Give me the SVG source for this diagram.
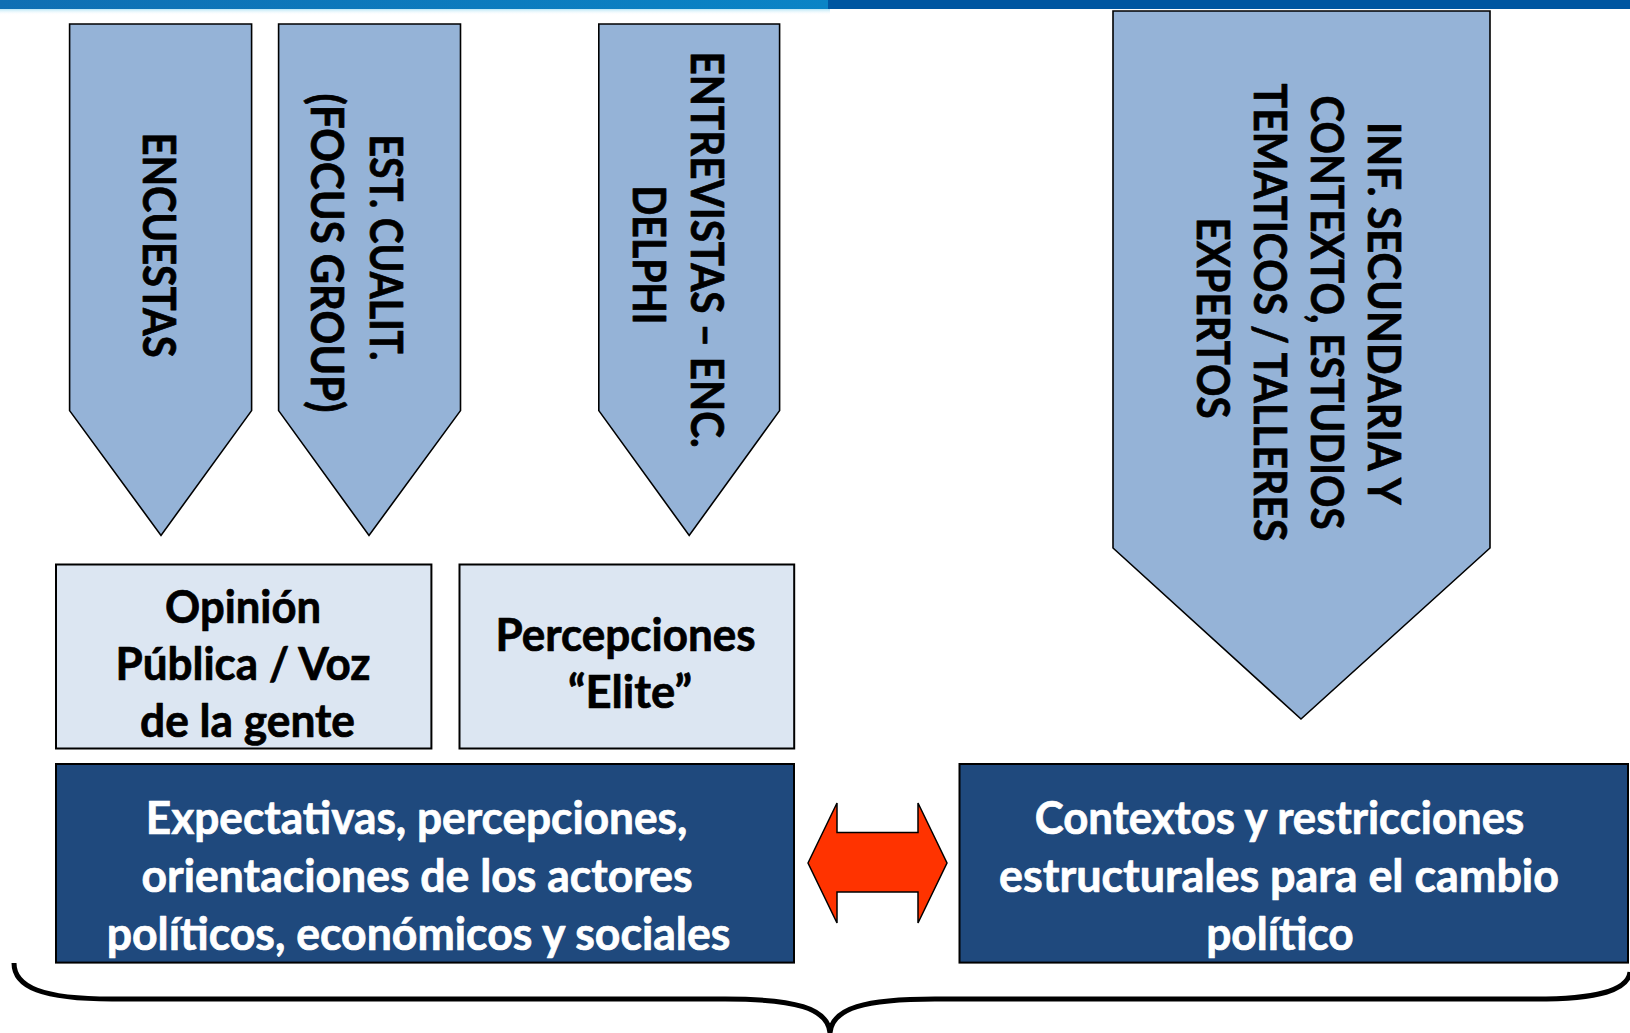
<svg xmlns="http://www.w3.org/2000/svg" width="1630" height="1033" viewBox="0 0 1630 1033">
<defs>
<linearGradient id="barL" x1="0" y1="0" x2="1" y2="0">
<stop offset="0" stop-color="#0f6fb3"/>
<stop offset="1" stop-color="#0a84c6"/>
</linearGradient>
<linearGradient id="fade" x1="0" y1="0" x2="0" y2="1">
<stop offset="0" stop-color="#b9e6f6"/>
<stop offset="1" stop-color="#ffffff" stop-opacity="0"/>
</linearGradient>
<style>
.arrow{fill:#95B3D7;stroke:#000;stroke-width:1.6;stroke-linejoin:miter}
.light{fill:#DCE6F2;stroke:#000;stroke-width:2}
.dark{fill:#1F497D;stroke:#000;stroke-width:2}
.t{font-family:Lato,"Open Sans","Liberation Sans",sans-serif;font-weight:bold;font-size:45px;stroke-width:0.7;stroke-linejoin:round}
.blk{fill:#000;stroke:#000}
.wht{fill:#fff;stroke:#fff}
.c{text-anchor:middle}
</style>
</defs>
<rect x="0" y="0" width="1630" height="1033" fill="#fff"/>
<rect x="0" y="9" width="830" height="6" fill="url(#fade)"/>
<rect x="0" y="0" width="828" height="9" fill="url(#barL)"/>
<rect x="828" y="0" width="802" height="9" fill="#0056a1"/>

<g id="arrow-encuestas">
<polygon class="arrow" points="69.6,24 251.6,24 251.6,410.6 161,535.4 69.6,410.6"/>
<text class="t blk c" transform="translate(143,245) rotate(90)" textLength="225" lengthAdjust="spacingAndGlyphs">ENCUESTAS</text>
</g>
<g id="arrow-cualit">
<polygon class="arrow" points="278.6,24 460.5,24 460.5,410.6 369,535.4 278.6,410.6"/>
<text class="t blk c" transform="translate(370,253) rotate(90)">
<tspan x="0" y="0" textLength="226" lengthAdjust="spacingAndGlyphs">EST. CUALIT.</tspan>
<tspan x="0" y="59" textLength="319" lengthAdjust="spacingAndGlyphs">(FOCUS GROUP)</tspan>
</text>
</g>
<g id="arrow-entrevistas">
<polygon class="arrow" points="598.8,24 779.6,24 779.6,410.6 689.2,535.4 598.8,410.6"/>
<text class="t blk c" transform="translate(691,255) rotate(90)">
<tspan x="0" y="0" textLength="396" lengthAdjust="spacingAndGlyphs">ENTREVISTAS – ENC.</tspan>
<tspan x="0" y="58" textLength="139" lengthAdjust="spacingAndGlyphs">DELPHI</tspan>
</text>
</g>
<g id="arrow-inf">
<polygon class="arrow" points="1113,11 1490,11 1490,548 1301,719 1113,548"/>
<text class="t blk c" transform="translate(1368,318) rotate(90)">
<tspan x="0" y="0" textLength="381" lengthAdjust="spacingAndGlyphs">INF. SECUNDARIA Y</tspan>
<tspan x="0" y="57" textLength="434" lengthAdjust="spacingAndGlyphs">CONTEXTO, ESTUDIOS</tspan>
<tspan x="0" y="114" textLength="458" lengthAdjust="spacingAndGlyphs">TEMATICOS / TALLERES</tspan>
<tspan x="0" y="171" textLength="201" lengthAdjust="spacingAndGlyphs">EXPERTOS</tspan>
</text>
</g>

<g id="box-opinion">
<rect class="light" x="56" y="564.5" width="375.4" height="184"/>
<text class="t blk c">
<tspan x="248.5" y="622.5" textLength="156" lengthAdjust="spacingAndGlyphs">Opinión</tspan>
<tspan x="248.5" y="679.8" textLength="255" lengthAdjust="spacingAndGlyphs">Pública / Voz</tspan>
<tspan x="247.5" y="737" textLength="215" lengthAdjust="spacingAndGlyphs">de la gente</tspan>
</text>
</g>
<g id="box-percepciones">
<rect class="light" x="459.5" y="564.5" width="334.7" height="184"/>
<text class="t blk c">
<tspan x="631" y="650.5" textLength="260" lengthAdjust="spacingAndGlyphs">Percepciones</tspan>
<tspan x="630" y="707.8" textLength="124" lengthAdjust="spacingAndGlyphs">“Elite”</tspan>
</text>
</g>
<g id="box-expectativas">
<rect class="dark" x="56" y="764" width="738" height="198.6"/>
<text class="t wht c">
<tspan x="422" y="834" textLength="541.6" lengthAdjust="spacingAndGlyphs">Expectativas, percepciones,</tspan>
<tspan x="422.5" y="892" textLength="551" lengthAdjust="spacingAndGlyphs">orientaciones de los actores</tspan>
<tspan x="418.5" y="949.5" textLength="623.7" lengthAdjust="spacingAndGlyphs">políticos, económicos y sociales</tspan>
</text>
</g>
<g id="box-contextos">
<rect class="dark" x="959.5" y="764" width="668.5" height="198.6"/>
<text class="t wht c">
<tspan x="1285" y="834" textLength="489.6" lengthAdjust="spacingAndGlyphs">Contextos y restricciones</tspan>
<tspan x="1284.5" y="892" textLength="560" lengthAdjust="spacingAndGlyphs">estructurales para el cambio</tspan>
<tspan x="1280" y="949.5" textLength="147.6" lengthAdjust="spacingAndGlyphs">político</tspan>
</text>
</g>

<g id="connectors">
<polygon points="808,863 837,803 837,832.5 918,832.5 918,803 947,863 918,923 918,892 837,892 837,923" fill="#FF3300" stroke="#000" stroke-width="1.5"/>
<path d="M14,963 C14,987 42,999 112,999 L725,999 C795,999 828,1008 830,1033 C832,1008 865,999 935,999 L1535,999 C1600,999 1628,990 1630,972" fill="none" stroke="#000" stroke-width="5"/>
</g>
</svg>
